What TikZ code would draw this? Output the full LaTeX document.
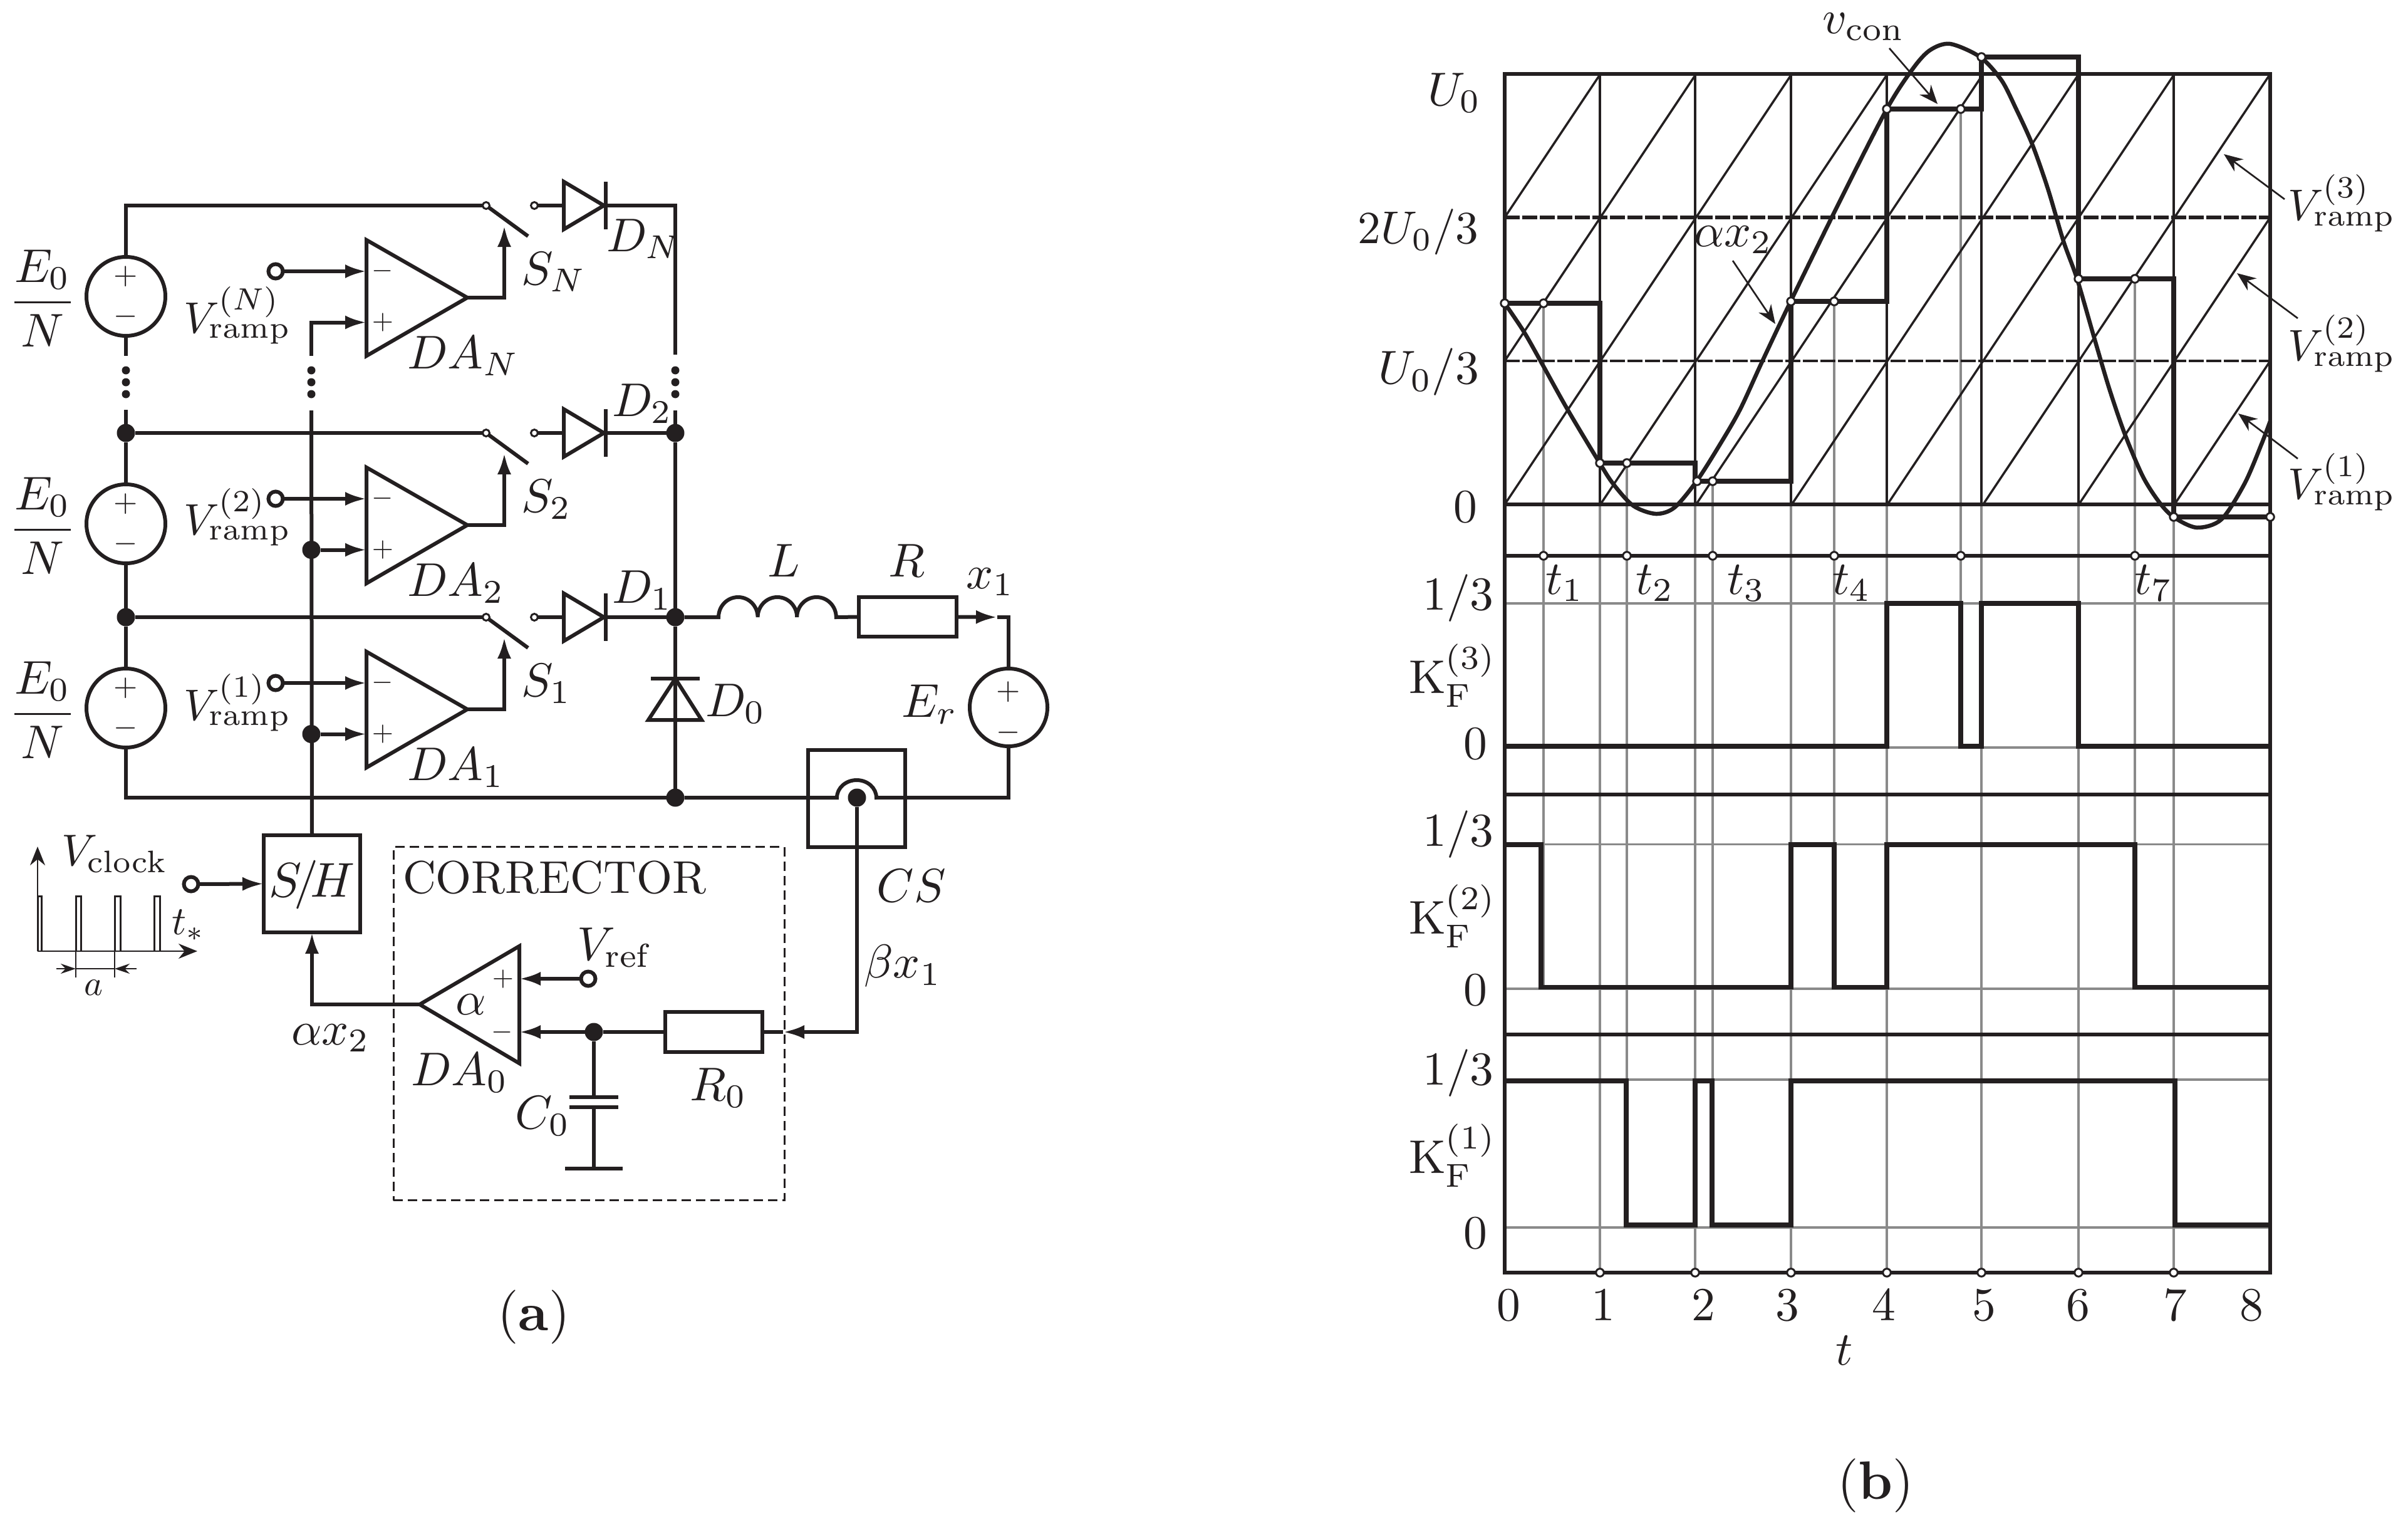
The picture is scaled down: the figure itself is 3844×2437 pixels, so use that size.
\documentclass[tikz,border=0pt]{standalone}
\usepackage{amsmath}
\usetikzlibrary{arrows.meta}
\definecolor{ink}{HTML}{231F20}
\definecolor{rule}{HTML}{8A8A8A}
\tikzset{
  x=0.1mm, y=-0.1mm,
  >={Latex[length=3.4mm,width=2.2mm]},
  wire/.style={line width=0.6mm, draw=ink},
  thin wire/.style={line width=0.3mm, draw=ink},
  ptr/.style={line width=0.27mm, draw=ink, -{Stealth[length=3mm,width=2.4mm]}},
  frame/.style={line width=0.6mm, draw=ink},
  ramp/.style={line width=0.35mm, draw=ink},
  vline/.style={line width=0.42mm, draw=ink},
  grid/.style={line width=0.33mm, draw=rule},
  stair/.style={line width=0.75mm, draw=ink},
  curve/.style={line width=0.65mm, draw=ink},
  source/.style={circle, draw=ink, line width=0.6mm, fill=white, minimum size=12.6mm, inner sep=0pt, outer sep=0pt},
  term/.style={circle, draw=ink, line width=0.3mm, fill=white, minimum size=1.1mm, inner sep=0pt, outer sep=0pt},
  pin/.style={circle, draw=ink, line width=0.6mm, fill=white, minimum size=2.3mm, inner sep=0pt, outer sep=0pt},
  pt/.style={circle, draw=ink, line width=0.3mm, fill=white, minimum size=1.25mm, inner sep=0pt},
  jn/.style={circle, fill=ink, minimum size=2.9mm, inner sep=0pt, outer sep=0pt},
  gapdot/.style={circle, fill=ink, minimum size=1.3mm, inner sep=0pt},
  block/.style={rectangle, draw=ink, line width=0.6mm, inner sep=0pt, outer sep=0pt},
  lab/.style={text=ink, inner sep=0pt, outer sep=0pt, scale=2.15, transform shape},
  sign/.style={text=ink, inner sep=0pt, outer sep=0pt, scale=1.4, transform shape},
  ampsign/.style={text=ink, inner sep=0pt, outer sep=0pt, scale=1.25, transform shape},
  caption/.style={text=ink, inner sep=0pt, outer sep=0pt, scale=2.45, transform shape}
}
\begin{document}
\begin{tikzpicture}
\useasboundingbox (0,0) rectangle (3844,2437);

% converter stages
\foreach \s/\wy/\vb/\dx/\dy/\dt in {N/328/531/968/401/D_N, 2/691/853/977/664/D_2, 1/985/1149/977/962/D_1}{
  \node[source] (vs\s) at (201,\wy+145) {};
  \node[sign] (vsp\s) at (201,\wy+113) {$+$};
  \node[sign] (vsm\s) at (201,\wy+177) {$-$};
  \node[lab] (ratio\s) at (68,\wy+148) {$\dfrac{E_0}{N}$};
  \node[term] (swa\s) at (776,\wy) {};
  \node[term] (swb\s) at (853,\wy) {};
  \coordinate (arm\s) at (843,\wy+49);
  \coordinate (dia\s) at (900,\wy);
  \coordinate (bar\s) at (967,\wy);
  \draw[wire] (swa\s) -- (arm\s);
  \draw[wire] (swb\s) -- (dia\s);
  \draw[wire] (900,\wy-38) -- (964,\wy) -- (900,\wy+38) -- cycle;
  \draw[wire] (967,\wy-38) -- (967,\wy+38);
  \coordinate (amp\s) at (746,\wy+147);
  \coordinate (ampm\s) at (585,\wy+105);
  \coordinate (ampp\s) at (585,\wy+186.5);
  \coordinate (ctl\s) at (805,\wy+32);
  \draw[wire] (585,\wy+55) -- (amp\s) -- (585,\wy+240) -- cycle;
  \node[ampsign] (minus\s) at (611,\wy+105) {$-$};
  \node[ampsign] (plus\s) at (611,\wy+186.5) {$+$};
  \node[pin] (vr\s) at (440,\wy+105) {};
  \draw[wire,->] (vr\s) -- (ampm\s);
  \draw[wire,->] (amp\s) -| (ctl\s);
  \node[lab, scale=0.93, anchor=base west] (vrl\s) at (293,\vb) {$V_{\mathrm{ramp}}^{(\s)}$};
  \node[lab, anchor=base west] (sl\s) at (832,\wy+126) {$S_\s$};
  \node[lab, anchor=base west] (dal\s) at (650,\wy+260) {$DA_\s$};
  \node[lab, anchor=base west] (dl\s) at (\dx,\dy) {$\dt$};
}

% dots where stages are left out
\foreach \g/\x in {a/201,b/497,c/1078}{
  \foreach \i/\y in {1/591,2/610,3/629}{
    \node[gapdot] (gap\g\i) at (\x,\y) {};
  }
}

% left rail
\coordinate (raila) at (201,568);
\coordinate (railb) at (201,654);
\node[jn] (j2) at (201,691) {};
\node[jn] (j1) at (201,985) {};
\node[jn] (jb) at (1078,1273) {};
\draw[wire] (vsN.north) |- (swaN);
\draw[wire] (vsN.south) -- (raila);
\draw[wire] (railb) -- (j2) -- (vs2.north);
\draw[wire] (vs2.south) -- (j1) -- (vs1.north);
\draw[wire] (j2) -- (swa2);
\draw[wire] (j1) -- (swa1);
\draw[wire] (vs1.south) |- (jb);

% right bus
\coordinate (busa) at (1078,566);
\coordinate (busb) at (1078,655);
\node[jn] (jd2) at (1078,691) {};
\node[jn] (jd1) at (1078,985) {};
\draw[wire] (barN) -| (busa);
\draw[wire] (busb) -- (jd2) -- (jd1) -- (jb);
\draw[wire] (bar2) -- (jd2);
\draw[wire] (bar1) -- (jd1);

% freewheel diode
\draw[wire] (1035,1149) -- (1078,1083) -- (1120,1149) -- cycle;
\draw[wire] (1039,1083) -- (1117,1083);
\node[lab, anchor=base west] (d0l) at (1126,1143) {$D_0$};

% load
\node[block, minimum width=15.6mm, minimum height=6.3mm] (load) at (1449,984.5) {};
\coordinate (xtip) at (1592,985);
\node[source, minimum size=12.4mm] (er) at (1610,1129) {};
\node[sign] (erp) at (1610,1104) {$+$};
\node[sign] (erm) at (1610,1169) {$-$};
\draw[wire] (jd1) -- (1147,985) arc[start angle=180,end angle=360,x radius=31.3,y radius=32]
  arc[start angle=180,end angle=360,x radius=31.3,y radius=32]
  arc[start angle=180,end angle=360,x radius=31.3,y radius=32] -- (load.west);
\draw[wire,->] (load.east) -- (xtip);
\draw[wire] (xtip) -| (er.north);
\node[lab] (ll) at (1251,895) {$L$};
\node[lab] (rl) at (1447,895) {$R$};
\node[lab] (xl) at (1581,929) {$x_1$};
\node[lab] (erl) at (1484,1124) {$E_r$};

% current sensor
\node[block, minimum width=15.5mm, minimum height=15.5mm] (cs) at (1367.5,1274.5) {};
\node[jn] (csj) at (1368,1273) {};
\coordinate (csa) at (1336,1273);
\coordinate (csb) at (1399,1273);
\draw[wire] (jb) -- (csa) arc[start angle=180,end angle=360,x radius=31.5,y radius=28] -- (csb);
\draw[wire] (csb) -| (er.south);
\node[lab] (csl) at (1455,1414) {$CS$};
\node[lab] (bxl) at (1441,1542) {$\beta x_1$};

% sample and hold
\node[block, minimum width=15.4mm, minimum height=15.5mm] (hold) at (498,1410.5) {};
\node[lab, scale=1.03] (holdl) at (498,1412) {$S\!/\!H$};
\coordinate (sga) at (497,568);
\coordinate (sgb) at (497,655);
\node[jn] (sj2) at (497,877.5) {};
\node[jn] (sj1) at (497,1171.5) {};
\draw[wire,->] (sga) |- (amppN);
\draw[wire] (sgb) -- (hold.north);
\draw[wire,->] (sj2) -- (ampp2);
\draw[wire,->] (sj1) -- (ampp1);
\node[pin] (clk) at (305,1411) {};
\draw[wire,->] (clk) -- (hold.west);

% clock pulses
\coordinate (clko) at (60,1518);
\coordinate (clky) at (60,1351);
\coordinate (clkx) at (315,1518);
\draw[ptr] (clko) -- (clky);
\draw[ptr] (clko) -- (clkx);
\draw[thin wire] (60,1518) -- (60,1430) -- (66,1430) -- (66,1518)
  (121,1518) -- (121,1430) -- (129,1430) -- (129,1518)
  (183,1518) -- (183,1430) -- (192,1430) -- (192,1518)
  (246,1518) -- (246,1430) -- (255,1430) -- (255,1518);
\coordinate (cka) at (121,1546);
\coordinate (ckb) at (183,1546);
\draw[line width=0.18mm, draw=ink] (121,1518) -- (121,1560) (183,1518) -- (183,1560);
\draw[line width=0.2mm, draw=ink, -{Stealth[length=2.4mm,width=1.6mm]}] (90,1546) -- (cka);
\draw[line width=0.2mm, draw=ink, -{Stealth[length=2.4mm,width=1.6mm]}] (218,1546) -- (ckb);
\draw[line width=0.2mm, draw=ink] (cka) -- (ckb);
\node[lab, scale=0.75] (al) at (149,1576) {$a$};
\node[lab, scale=0.94] (vcl) at (183,1363) {$V_{\mathrm{clock}}$};
\node[lab, scale=0.85] (tsl) at (301,1477) {$t_*$};

% corrector
\node[rectangle, draw=ink, line width=0.3mm, dash pattern=on 1.5mm off 0.8mm, minimum width=62.4mm, minimum height=56.4mm, inner sep=0pt] (corr) at (940,1633.5) {};
\node[lab, scale=0.97, anchor=west] (corrl) at (643,1400) {CORRECTOR};
\coordinate (da0) at (670,1603);
\coordinate (da0p) at (829,1562);
\coordinate (da0m) at (829,1647);
\draw[wire] (829,1510) -- (da0) -- (829,1697) -- cycle;
\draw[wire,->] (da0) -| (hold.south);
\node[ampsign] (da0pl) at (803,1563) {$+$};
\node[ampsign] (da0mi) at (802,1647) {$-$};
\node[lab] (alpha) at (752,1603) {$\alpha$};
\node[pin] (vref) at (939,1562) {};
\draw[wire,->] (vref) -- (da0p);
\node[lab] (vrefl) at (982,1512) {$V_{\mathrm{ref}}$};
\node[jn] (c0j) at (948,1647) {};
\node[block, minimum width=15.5mm, minimum height=6.4mm] (r0) at (1139,1647) {};
\coordinate (r0tip) at (1250,1647);
\draw[wire,->] (c0j) -- (da0m);
\draw[wire] (c0j) -- (r0.west);
\draw[wire,->] (csj) |- (r0tip);
\draw[wire] (r0tip) -- (r0.east);
\coordinate (c0a) at (948,1751);
\coordinate (c0b) at (948,1767);
\coordinate (c0g) at (948,1865);
\draw[wire] (c0j) -- (c0a) (c0b) -- (c0g);
\draw[wire] (909,1751) -- (987,1751) (909,1767) -- (987,1767);
\draw[wire] (902,1865) -- (994,1865);
\node[lab] (c0l) at (866,1781) {$C_0$};
\node[lab] (r0l) at (1147,1736) {$R_0$};
\node[lab] (da0l) at (734,1712) {$DA_0$};
\node[lab] (ax2l) at (528,1657) {$\alpha x_2$};
\node[caption] (capa) at (852,2102) {(\textbf{a})};

% chart: grid, ramps
\foreach \x in {2554,2706,2859,3012,3163,3318,3470}{
  \draw[vline] (\x,118) -- (\x,805);
  \draw[grid] (\x,805) -- (\x,2031);
}
\foreach \y in {963,1193,1347.5,1578,1723,1959}{
  \draw[grid] (2402,\y) -- (3624,\y);
}
\foreach \x/\y/\e in {2464/484/1578,2597/739/1959,2734/768/1959,2928/481/1578,3130/174/1193,3408/445/1578}{
  \draw[grid] (\x,\y) -- (\x,\e);
}
\begin{scope}
  \clip (2402,118) rectangle (3624,805);
  \foreach \k in {-2,...,7}{
    \draw[ramp] ({2402+152.75*\k},805) -- ({2402+152.75*(\k+3)},118);
  }
\end{scope}
\draw[line width=0.55mm, draw=ink, dash pattern=on 2.4mm off 0.4mm] (2402,347) -- (3624,347);
\draw[line width=0.45mm, draw=ink, dash pattern=on 2.4mm off 0.4mm] (2402,576) -- (3624,576);

% frames
\draw[frame] (2402,118) rectangle (3624,2031);
\foreach \y in {805,887,1268,1651}{
  \draw[frame] (2402,\y) -- (3624,\y);
}

% control voltage and its samples
\draw[curve] plot[smooth] coordinates {(2402,484) (2433,530) (2463,583) (2502,653) (2553,738) (2575,772) (2607,807) (2643,820) (2673,810) (2709,767) (2747,707) (2778,653) (2813,577) (2858,482) (2934,327) (3012,174) (3054,109) (3081,80) (3113,70) (3161,91) (3195,128) (3218,173) (3244,230) (3269,301) (3294,385) (3316,446) (3343,539) (3367,620) (3392,693) (3421,761) (3448,803) (3471,826) (3507,842) (3546,829) (3583,772) (3610,709) (3624,672)};
\draw[stair] (2402,484) -| (2554,739) -| (2706,768) -| (2859,481) -| (3012,174) -| (3163,91) -| (3318,445) -| (3470,825) -- (3624,825);

% switching functions
\draw[stair] (2402,1191) -- (3012,1191) |- (3130,963) |- (3163,1191) |- (3318,963) |- (3624,1191);
\draw[stair] (2402,1348) -| (2460,1575.5) -| (2859,1348) -| (2928,1575.5) -| (3012,1348) -| (3408,1575.5) -- (3624,1575.5);
\draw[stair] (2402,1725) -| (2596,1955) -| (2706,1725) -| (2733,1955) -| (2859,1725) -| (3472,1955) -- (3624,1955);

% marks
\foreach \x/\y [count=\i] in {2402/484,2464/484,2554/739,2597/739,2709/768,2734/768,2859/481,2928/481,3012/174,3130/174,3163/91,3318/445,3408/445,3470/825,3624/825}{
  \node[pt] (smp\i) at (\x,\y) {};
}
\foreach \x [count=\i] in {2464,2597,2734,2928,3130,3408}{
  \node[pt] (tm\i) at (\x,887) {};
}
\foreach \x [count=\i] in {2554,2706,2859,3012,3163,3318,3470}{
  \node[pt] (tick\i) at (\x,2031) {};
}

% chart labels
\node[lab] (u0) at (2322,148) {$U_0$};
\node[lab, scale=0.97] (u23) at (2264,370) {$2U_0/3$};
\node[lab] (u13) at (2281,594) {$U_0/3$};
\node[lab] (u00) at (2339,809) {$0$};
\foreach \k/\y/\hy/\zy in {3/1078/955/1187,2/1462/1332/1580,1/1844/1713/1968}{
  \node[lab] (kf\k) at (2319,\y) {$\mathrm{K}_{\mathrm{F}}^{(\k)}$};
  \node[lab] (khi\k) at (2328,\hy) {$1/3$};
  \node[lab] (klo\k) at (2355,\zy) {$0$};
}
\foreach \x/\t/\v in {2498/t1/t_1,2642/t2/t_2,2788/t3/t_3,2956/t4/t_4,3438/t7/t_7}{
  \node[lab] (\t) at (\x,931) {$\v$};
}
\foreach \x/\v in {2408/0,2559/1,2719/2,2853/3,3007/4,3167/5,3317/6,3472/7,3594/8}{
  \node[lab] (num\v) at (\x,2083) {$\v$};
}
\node[lab] (tl) at (2944,2155) {$t$};
\node[caption] (capb) at (2994,2371) {(\textbf{b})};

% callouts
\node[lab] (vconl) at (2975,43) {$v_{\mathrm{con}}$};
\node[lab] (ax2r) at (2767,383) {$\alpha x_2$};
\node[lab, scale=0.93] (vr3) at (3738,324) {$V_{\mathrm{ramp}}^{(3)}$};
\node[lab, scale=0.93] (vr2) at (3738,548) {$V_{\mathrm{ramp}}^{(2)}$};
\node[lab, scale=0.93] (vr1) at (3738,769) {$V_{\mathrm{ramp}}^{(1)}$};
\coordinate (vconp) at (3093,166);
\coordinate (ax2p) at (2834,517);
\coordinate (vr3p) at (3550,246);
\coordinate (vr2p) at (3571,436);
\coordinate (vr1p) at (3573,660);
\draw[ptr] (3016,77) -- (vconp);
\draw[ptr] (2766,416) -- (ax2p);
\draw[ptr] (3647,318) -- (vr3p);
\draw[ptr] (3668,508) -- (vr2p);
\draw[ptr] (3668,732) -- (vr1p);
\end{tikzpicture}
\end{document}
